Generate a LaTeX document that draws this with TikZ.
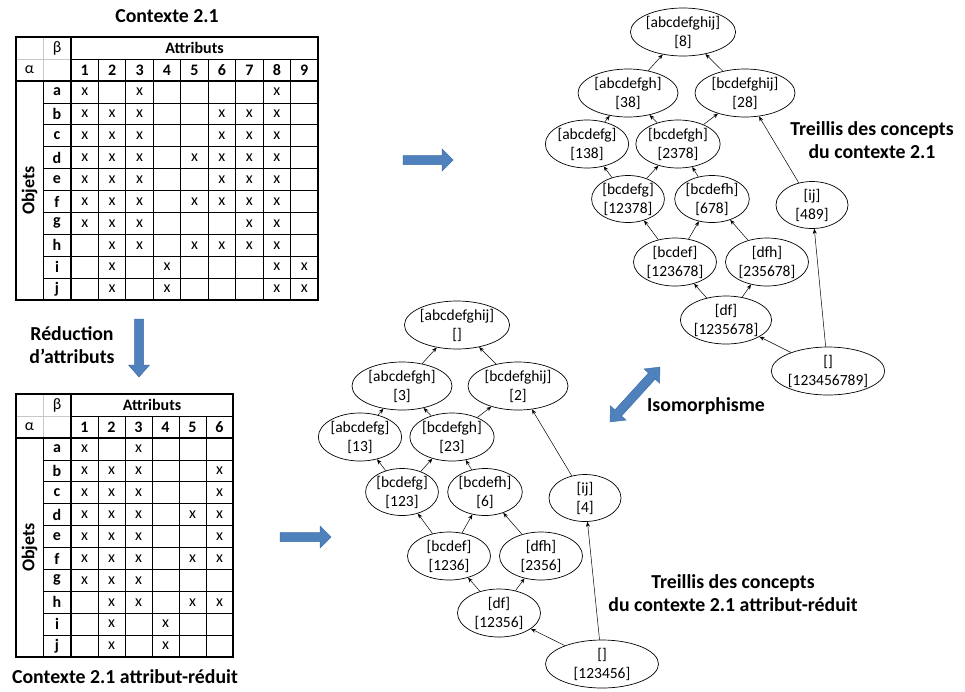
\documentclass[tikz,border=0pt]{standalone}
\usepackage{fontspec}
\setmainfont{Carlito}
\usetikzlibrary{arrows.meta,shapes.geometric}
\definecolor{arrowblue}{HTML}{4F81BD}
\definecolor{arrowedge}{HTML}{3F6FA8}
\definecolor{gridgray}{HTML}{C8C8C8}
\tikzset{
  concept/.style={draw, ellipse, inner sep=0pt, align=center, line width=0.7pt,
    font=\fontsize{15.5}{19}\selectfont},
  bigc/.style={concept, minimum width=100pt, minimum height=48pt},
  midc/.style={concept, minimum width=83pt, minimum height=48pt},
  smallc/.style={concept, minimum width=72pt, minimum height=47pt},
  botc/.style={concept, minimum width=113pt, minimum height=48pt},
  order/.style={-{Stealth[length=5pt,width=4pt]}, line width=0.5pt},
  title/.style={align=center, font=\bfseries\fontsize{19.8}{23.5}\selectfont},
  cell/.style={inner sep=0pt, font=\fontsize{16}{18}\selectfont},
  head/.style={inner sep=0pt, font=\bfseries\fontsize{16}{18}\selectfont},
  side/.style={inner sep=0pt, rotate=90, font=\bfseries\fontsize{18}{20}\selectfont},
  thin grid/.style={line width=0.8pt},
  thick grid/.style={line width=1.3pt},
  blockarrow/.style={fill=arrowblue, draw=arrowedge, line width=0.5pt}
}

\begin{document}
\begin{tikzpicture}[x=1pt, y=-1pt]
\useasboundingbox (0,0) rectangle (965,691);

\node[title] (ctx1) at (167,16) {Contexte 2.1};
\draw[gridgray, thin grid] (43,37) -- (43,81) (16,59) -- (71,59);
\draw[thin grid] (71,59) -- (318,59) (43,81) -- (43,300);
\foreach \i in {1,...,8} \draw[thin grid] ({71+27.44*\i},59) -- ({71+27.44*\i},300);
\foreach \k in {1,...,9} \draw[thin grid] (43,{81+21.9*\k}) -- (318,{81+21.9*\k});
\draw[thick grid] (16,37) rectangle (318,300) (71,37) -- (71,300) (16,81) -- (318,81);
\node[cell] (t1beta) at (57,48) {β};
\node[head] (t1attr) at (194.5,48) {Attributs};
\node[cell] (t1alpha) at (29.5,70) {α};
\node[side] (t1obj) at (29.5,190.5) {Objets};
\foreach \c in {1,...,9} \node[head] (t1c\c) at ({71+27.44*(\c-0.5)},70) {\c};
\foreach \r/\cols [count=\k] in {a/{1,3,8}, b/{1,2,3,6,7,8}, c/{1,2,3,6,7,8},
    d/{1,2,3,5,6,7,8}, e/{1,2,3,6,7,8}, f/{1,2,3,5,6,7,8}, g/{1,2,3,7,8},
    h/{2,3,5,6,7,8}, i/{2,4,8,9}, j/{2,4,8,9}} {
  \node[head] (t1r\r) at (57,{81+21.9*(\k-0.5)}) {\r};
  \foreach \c in \cols \node[cell] (t1x\r\c) at ({71+27.44*(\c-0.5)},{81+21.9*(\k-0.5)}) {x};
}

\node[title] (reduc) at (72,345) {Réduction\\d’attributs};
\filldraw[blockarrow] (134.5,319) -- (143.5,319) -- (143.5,365) -- (149.5,365) -- (139,377)
  -- (128.5,365) -- (134.5,365) -- cycle;

\draw[gridgray, thin grid] (43,394) -- (43,438) (16,416) -- (71,416);
\draw[thin grid] (71,416) -- (233,416) (43,438) -- (43,657);
\foreach \i in {1,...,5} \draw[thin grid] ({71+27*\i},416) -- ({71+27*\i},657);
\foreach \k in {1,...,9} \draw[thin grid] (43,{438+21.9*\k}) -- (233,{438+21.9*\k});
\draw[thick grid] (16,394) rectangle (233,657) (71,394) -- (71,657) (16,438) -- (233,438);
\node[cell] (t2beta) at (57,405) {β};
\node[head] (t2attr) at (152,405) {Attributs};
\node[cell] (t2alpha) at (29.5,427) {α};
\node[side] (t2obj) at (29.5,547.5) {Objets};
\foreach \c in {1,...,6} \node[head] (t2c\c) at ({71+27*(\c-0.5)},427) {\c};
\foreach \r/\cols [count=\k] in {a/{1,3}, b/{1,2,3,6}, c/{1,2,3,6}, d/{1,2,3,5,6},
    e/{1,2,3,6}, f/{1,2,3,5,6}, g/{1,2,3}, h/{2,3,5,6}, i/{2,4}, j/{2,4}} {
  \node[head] (t2r\r) at (57,{438+21.9*(\k-0.5)}) {\r};
  \foreach \c in \cols \node[cell] (t2x\r\c) at ({71+27*(\c-0.5)},{438+21.9*(\k-0.5)}) {x};
}
\node[title] (ctx2) at (125,677) {Contexte 2.1 attribut-réduit};

\filldraw[blockarrow] (403,155.5) -- (442,155.5) -- (442,149) -- (453,160) -- (442,171)
  -- (442,164.5) -- (403,164.5) -- cycle;
\filldraw[blockarrow] (280,532.5) -- (320,532.5) -- (320,526) -- (331,537) -- (320,548)
  -- (320,541.5) -- (280,541.5) -- cycle;

\draw (683,32)  node (l8)        [bigc]   {[abcdefghij]\\{}[8]};
\draw (628,93)  node (l38)       [bigc]   {[abcdefgh]\\{}[38]};
\draw (745,93)  node (l28)       [bigc]   {[bcdefghij]\\{}[28]};
\draw (587,144) node (l138)      [midc]   {[abcdefg]\\{}[138]};
\draw (678,144) node (l2378)     [midc]   {[bcdefgh]\\{}[2378]};
\draw (628,199) node (l12378)    [smallc] {[bcdefg]\\{}[12378]};
\draw (712,199) node (l678)      [smallc] {[bcdefh]\\{}[678]};
\draw (812,205) node (l489)      [smallc] {[ij]\\{}[489]};
\draw (675,262) node (l123678)   [midc]   {[bcdef]\\{}[123678]};
\draw (767,262) node (l235678)   [midc]   {[dfh]\\{}[235678]};
\draw (726,320) node (l1235678)  [midc]   {[df]\\{}[1235678]};
\draw (828,371) node (l123456789) [botc]  {[]\\{}[123456789]};
\foreach \a/\b in {l38/l8, l28/l8, l138/l38, l2378/l38, l2378/l28, l12378/l138,
    l12378/l2378, l678/l2378, l489/l28, l123678/l12378, l123678/l678, l235678/l678,
    l1235678/l123678, l1235678/l235678, l123456789/l1235678, l123456789/l489}
  \draw[order] (\a) -- (\b);
\node[title] (treil1) at (872,140) {Treillis des concepts\\du contexte 2.1};

\begin{scope}[shift={(635,394.5)}, rotate=47.7]
\filldraw[blockarrow] (-37,0) -- (-25,10.5) -- (-25,4.5) -- (25,4.5) -- (25,10.5) -- (37,0)
  -- (25,-10.5) -- (25,-4.5) -- (-25,-4.5) -- (-25,-10.5) -- cycle;
\end{scope}
\node[title] (iso) at (706,406) {Isomorphisme};

\draw (457,325) node (rtop)   [bigc]   {[abcdefghij]\\{}[]};
\draw (402,386) node (r3)     [bigc]   {[abcdefgh]\\{}[3]};
\draw (518,386) node (r2)     [bigc]   {[bcdefghij]\\{}[2]};
\draw (360,437) node (r13)    [midc]   {[abcdefg]\\{}[13]};
\draw (452,437) node (r23)    [midc]   {[bcdefgh]\\{}[23]};
\draw (402,492) node (r123)   [smallc] {[bcdefg]\\{}[123]};
\draw (485,492) node (r6)     [smallc] {[bcdefh]\\{}[6]};
\draw (585,498) node (r4)     [smallc] {[ij]\\{}[4]};
\draw (449,556) node (r1236)  [midc]   {[bcdef]\\{}[1236]};
\draw (541,556) node (r2356)  [midc]   {[dfh]\\{}[2356]};
\draw (499,613) node (r12356) [midc]   {[df]\\{}[12356]};
\draw (602,664) node (r123456) [botc]  {[]\\{}[123456]};
\foreach \a/\b in {r3/rtop, r2/rtop, r13/r3, r23/r3, r23/r2, r123/r13, r123/r23,
    r6/r23, r4/r2, r1236/r123, r1236/r6, r2356/r6, r12356/r1236, r12356/r2356,
    r123456/r12356, r123456/r4}
  \draw[order] (\a) -- (\b);
\node[title] (treil2) at (733,593) {Treillis des concepts\\du contexte 2.1 attribut-réduit};
\end{tikzpicture}
\end{document}
